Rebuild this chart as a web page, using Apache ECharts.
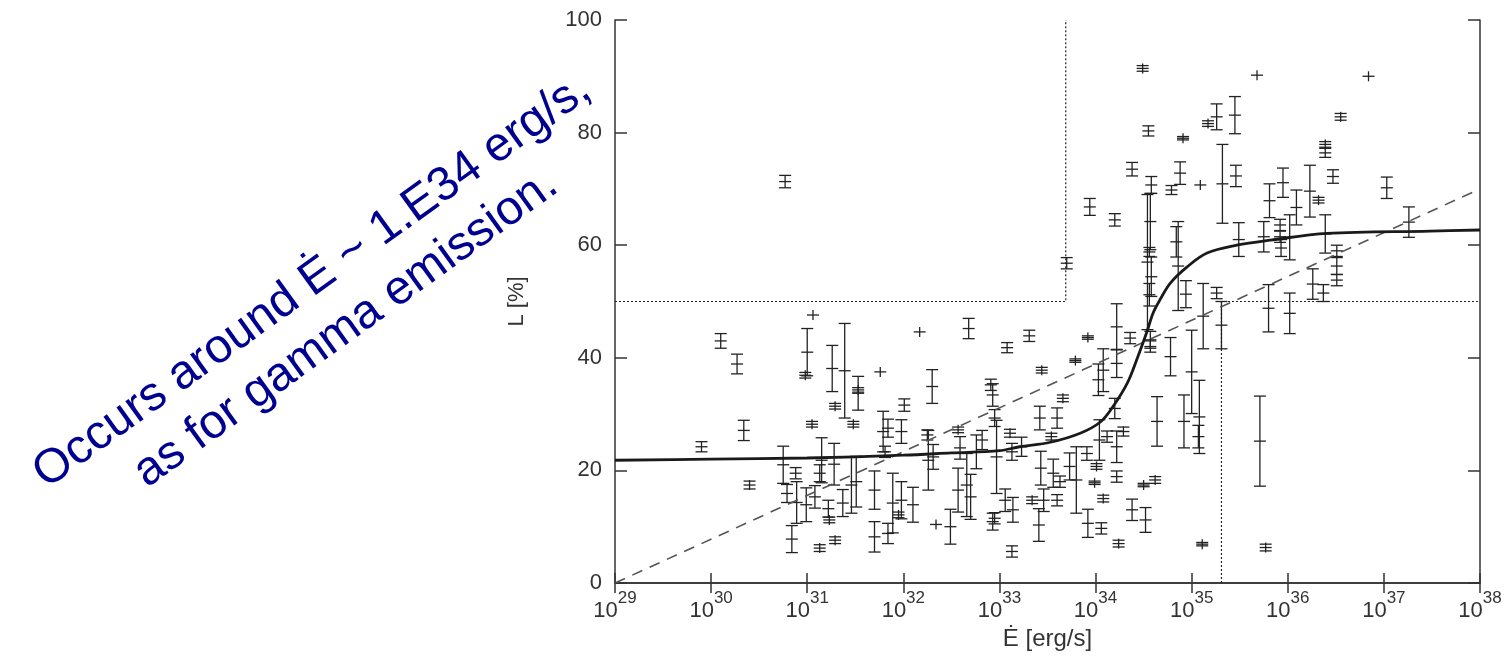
<!DOCTYPE html>
<html><head><meta charset="utf-8">
<script src="https://cdn.jsdelivr.net/npm/echarts@6/dist/echarts.min.js"></script>
<style>html,body{margin:0;padding:0;background:#fff}#c{width:1506px;height:658px}</style>
</head><body><div id="c"></div>
<script>
// x tick exponents (axis is log10 of E-dot) and y ticks
const xTickExponents = [29, 30, 31, 32, 33, 34, 35, 36, 37, 38];
const yTicks = [0, 20, 40, 60, 80, 100];

// Pulsar points: log10(Edot), L [%], symmetric error on L
const logEdot = [29.90,30.10,30.27,30.34,30.40,30.77,30.75,30.79,30.84,30.88,30.89,30.99,31.06,31.00,30.98,31.05,31.08,31.15,31.13,31.26,
31.29,31.28,31.22,31.23,31.29,31.13,31.39,31.37,31.48,31.46,31.51,31.53,31.53,31.76,31.70,31.70,31.79,31.84,31.98,31.84,
31.89,31.95,31.98,31.81,32.01,32.10,32.17,32.30,32.34,32.49,32.26,32.25,32.31,32.57,32.59,32.57,32.66,32.70,32.68,32.76,
32.82,32.91,32.93,32.95,32.97,32.95,32.93,33.08,33.06,33.14,33.13,33.13,33.11,33.23,33.31,33.34,33.41,33.44,33.42,33.46,
33.43,33.54,33.60,33.56,33.63,33.60,33.66,33.70,33.73,33.79,33.80,33.92,33.91,33.92,33.94,34.01,33.99,34.03,34.04,34.08,
34.08,34.06,34.12,34.20,34.20,34.22,34.22,34.22,34.22,34.24,34.29,34.36,34.38,34.38,34.49,34.50,34.52,34.55,34.57,34.57,
34.57,34.56,34.58,34.56,34.54,34.58,34.62,34.64,34.78,34.79,34.84,34.86,34.88,34.91,34.94,34.92,35.00,35.08,35.07,35.09,
35.11,35.12,35.17,35.26,35.26,35.31,35.32,35.45,35.46,35.49,35.68,35.71,35.77,35.75,35.80,35.81,35.92,35.92,35.93,35.95,
36.02,36.02,36.09,36.23,36.32,36.26,36.37,36.39,36.39,36.39,36.47,36.51,36.51,36.51,36.55,36.84,37.03,37.26];
const lPercent = [24.2,43.0,38.9,27.1,17.4,71.3,21.0,15.9,7.8,19.5,14.3,13.9,47.6,41.0,36.9,28.2,15.3,21.8,19.5,38.1,
31.4,21.1,13.2,11.2,7.6,6.2,37.7,14.2,28.2,17.4,18.0,33.7,34.3,37.5,16.5,8.2,26.9,27.5,26.9,8.8,
14.2,12.1,14.7,23.3,31.6,13.9,44.6,34.9,10.4,10.0,21.8,26.3,22.4,27.2,24.0,16.5,17.4,15.3,45.2,23.3,
25.4,35.2,33.4,29.3,22.4,11.5,10.9,41.8,14.7,13.0,5.6,23.3,26.6,24.2,43.9,14.7,10.3,37.8,29.3,14.7,
20.4,26.0,29.3,19.5,18.0,14.7,32.8,56.8,20.7,39.5,18.3,43.6,23.0,10.6,66.8,20.7,17.8,36.1,25.4,37.8,
15.0,9.7,26.0,64.5,31.0,45.5,39.0,24.2,18.9,7.0,26.9,43.5,73.5,13.0,91.4,17.4,11.2,80.3,43.2,42.0,
64.2,58.8,54.4,51.2,57.0,70.7,18.3,28.7,40.2,69.8,60.6,56.3,72.8,79.0,51.3,28.7,37.5,29.5,26.0,70.7,
6.9,47.4,81.6,82.8,51.5,45.8,70.9,83.1,72.3,61.0,90.2,25.2,6.3,61.5,48.8,67.9,63.6,61.5,59.5,71.1,
47.9,61.4,66.7,69.6,68.0,53.1,51.5,62.0,77.9,76.4,72.2,59.0,56.3,53.8,82.8,90.0,70.2,64.1];
const lError = [0.9,1.3,1.75,1.8,0.7,1.1,3.3,1.6,2.4,1.0,3.7,3.0,0,4.2,0.5,0.5,2.0,4.0,1.5,4.1,
0.5,3.7,1.5,0.5,0.6,0.6,8.4,2.4,0.5,5.0,4.5,3.0,0.4,0,3.4,2.7,3.6,1.6,2.1,1.8,
5.3,0.5,3.3,1.0,1.1,3.1,0,3.0,0,3.1,5.3,0.9,2.2,0.5,2.0,3.9,5.6,4.0,1.8,3.0,
1.7,1.0,2.0,1.5,6.5,1.0,1.5,0.9,2.0,2.2,1.0,1.5,0.7,1.7,1.0,0.6,2.9,0.5,2.1,2.0,
3.0,0.6,1.8,2.5,1.0,1.0,0.6,1.0,2.4,0.3,5.9,0.3,1.2,2.5,1.5,0.5,0.3,2.8,3.6,3.8,
0.6,1.0,1.0,1.1,1.8,4.1,2.5,2.8,1.0,0.6,0.8,1.0,1.2,1.9,0.5,0.3,2.2,0.9,1.5,1.0,
5.0,0.8,3.5,2.0,12.0,1.5,0.6,4.4,3.4,0.8,2.7,7.9,2.0,0.3,2.4,4.7,7.4,6.5,2.0,0,
0.3,5.8,0.5,2.3,1.0,4.2,7.0,3.3,1.9,3.0,0,8.0,0.6,2.7,4.2,3.0,1.0,1.0,1.5,2.6,
3.6,4.0,3.1,4.6,0.5,2.7,1.5,3.4,0.5,0.8,1.2,1.0,1.5,1.0,0.6,0,1.9,2.7];

// Fitted (solid) curve
const fitLogE = [29, 30, 31, 32, 32.5, 33, 33.21, 33.53, 33.84, 34.05, 34.18, 34.33, 34.44, 34.53, 34.6, 34.67, 34.78, 34.95, 35.16, 35.47, 35.82, 36.41, 37.48, 38];
const fitL = [21.8, 22.0, 22.2, 22.7, 23.1, 23.5, 24.2, 25.0, 26.6, 28.6, 31.3, 35.5, 40.2, 44.4, 48.0, 50.3, 53.3, 56.1, 58.6, 60.0, 60.9, 62.1, 62.5, 62.7];
// Dashed trend line
const trendLogE = [29, 38];
const trendL = [0, 70];
// Dotted cut lines
const cutLeftLogE = [29, 33.69, 33.69];
const cutLeftL = [50, 50, 100];
const cutRightLogE = [35.31, 35.31, 38];
const cutRightL = [0, 50, 50];

const pairs = (xs, ys) => xs.map((x, i) => [x, ys[i]]);
const points = logEdot.map((x, i) => [x, lPercent[i], lError[i]]);

const chart = echarts.init(document.getElementById('c'));
const axisCol = '#333';
const font = 'Liberation Sans';
const frameLine = { show: true, lineStyle: { color: axisCol, width: 1.5 } };
const option = {
  animation: false,
  grid: { left: 615, top: 20, right: 26, bottom: 75 },
  xAxis: [{
    type: 'value', min: 29, max: 38, interval: 1,
    name: 'Ė [erg/s]', nameLocation: 'middle', nameGap: 42,
    nameTextStyle: { fontFamily: font, fontSize: 24, color: axisCol },
    axisLine: frameLine,
    axisTick: { inside: true, length: 10, lineStyle: { color: axisCol, width: 1.5 } },
    splitLine: { show: false },
    axisLabel: {
      margin: 7,
      formatter: v => '{b|10}{s|' + v + '}',
      rich: {
        b: { fontFamily: font, fontSize: 22, color: axisCol, lineHeight: 32, verticalAlign: 'bottom' },
        s: { fontFamily: font, fontSize: 17, color: axisCol, lineHeight: 18, verticalAlign: 'top' }
      }
    }
  }, {
    type: 'value', min: 29, max: 38, interval: 1, position: 'top',
    axisLine: frameLine,
    axisTick: { inside: true, length: 10, lineStyle: { color: axisCol, width: 1.5 } },
    axisLabel: { show: false }, splitLine: { show: false }
  }],
  yAxis: [{
    type: 'value', min: 0, max: 100, interval: 20,
    name: 'L [%]', nameLocation: 'middle', nameGap: 87, nameRotate: 90,
    nameTextStyle: { fontFamily: font, fontSize: 22, color: axisCol },
    axisLine: frameLine,
    axisTick: { inside: true, length: 12, lineStyle: { color: axisCol, width: 1.5 } },
    splitLine: { show: false },
    axisLabel: { margin: 13, fontFamily: font, fontSize: 22, color: axisCol }
  }, {
    type: 'value', min: 0, max: 100, interval: 20, position: 'right',
    axisLine: frameLine,
    axisTick: { inside: true, length: 12, lineStyle: { color: axisCol, width: 1.5 } },
    axisLabel: { show: false }, splitLine: { show: false }
  }],
  graphic: [{
    type: 'text', x: 329, y: 305, rotation: 35.8 * Math.PI / 180,
    style: {
      text: 'Occurs around Ė ~ 1.E34 erg/s,\nas for gamma emission.',
      fontFamily: font, fontSize: 48, lineHeight: 58,
      fill: '#000090', align: 'center', verticalAlign: 'middle'
    }
  }],
  series: [
    { type: 'line', data: pairs(cutLeftLogE, cutLeftL), symbol: 'none', silent: true,
      lineStyle: { color: '#222', width: 1.2, type: [2, 2] } },
    { type: 'line', data: pairs(cutRightLogE, cutRightL), symbol: 'none', silent: true,
      lineStyle: { color: '#222', width: 1.2, type: [2, 2] } },
    { type: 'line', data: pairs(trendLogE, trendL), symbol: 'none', silent: true,
      lineStyle: { color: '#555', width: 1.6, type: [11, 8] } },
    { type: 'custom', data: points, clip: true,
      renderItem: (params, api) => {
        const x = api.value(0), y = api.value(1), e = api.value(2);
        const c = api.coord([x, y]);
        const t = api.coord([x, y + e]);
        const b = api.coord([x, y - e]);
        const st = { stroke: '#222', lineWidth: 1.3 };
        const hw = 6, mk = 5;
        const ch = [];
        const ln = (x1, y1, x2, y2) => ch.push({ type: 'line', shape: { x1, y1, x2, y2 }, style: st });
        ln(c[0] - hw, c[1], c[0] + hw, c[1]);
        ln(c[0], Math.min(t[1], c[1] - mk), c[0], Math.max(b[1], c[1] + mk));
        if (e > 0) {
          ln(c[0] - hw, t[1], c[0] + hw, t[1]);
          ln(c[0] - hw, b[1], c[0] + hw, b[1]);
        }
        return { type: 'group', children: ch };
      }
    },
    { type: 'line', data: pairs(fitLogE, fitL), symbol: 'none', smooth: 0.35, silent: true,
      lineStyle: { color: '#1a1a1a', width: 2.8 } }
  ]
};
chart.setOption(option);
</script></body></html>
